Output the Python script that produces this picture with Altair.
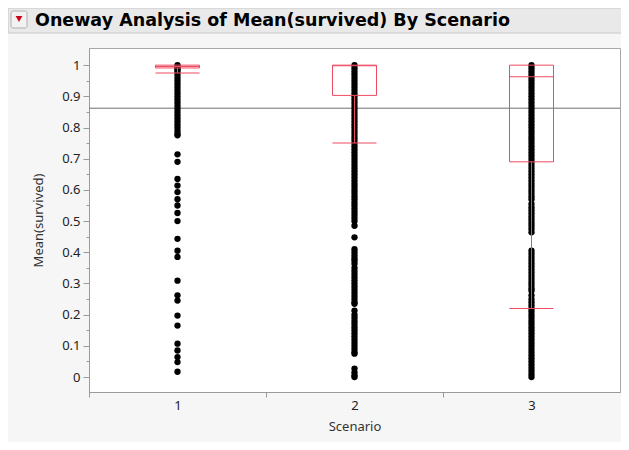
import altair as alt
import pandas as pd

# ---------------- data ----------------
scenario_labels = ["1", "2", "3"]
scenarios = [1, 2, 3]

s1 = [1.0, 0.995, 0.99, 0.985, 0.98, 0.97, 0.96, 0.95, 0.94, 0.93, 0.92, 0.91,
      0.90, 0.89, 0.88, 0.87, 0.86, 0.85, 0.84, 0.83, 0.82, 0.81, 0.80, 0.79,
      0.78, 0.775, 0.714, 0.69, 0.635, 0.614, 0.593, 0.57, 0.55, 0.526, 0.50,
      0.443, 0.405, 0.385, 0.309, 0.262, 0.245, 0.197, 0.165, 0.107, 0.085,
      0.064, 0.048, 0.017]

s2 = [1.0, 0.99, 0.98, 0.97, 0.96, 0.95, 0.94, 0.93, 0.92, 0.91, 0.90, 0.89,
      0.88, 0.87, 0.86, 0.85, 0.84, 0.83, 0.82, 0.81, 0.80, 0.79, 0.78, 0.77,
      0.76, 0.75, 0.74, 0.73, 0.72, 0.71, 0.70, 0.69, 0.68, 0.67, 0.66, 0.65,
      0.64, 0.63, 0.62, 0.61, 0.60, 0.59, 0.58, 0.57, 0.56, 0.55, 0.54, 0.53,
      0.52, 0.51, 0.50, 0.485, 0.448, 0.41, 0.40, 0.39, 0.38, 0.373, 0.363,
      0.35, 0.34, 0.33, 0.32, 0.31, 0.30, 0.29, 0.28, 0.27, 0.26, 0.25, 0.24,
      0.235, 0.213, 0.20, 0.19, 0.18, 0.17, 0.16, 0.15, 0.14, 0.13, 0.12, 0.11,
      0.10, 0.09, 0.08, 0.075, 0.027, 0.015, 0.005, 0.0]

s3 = [1.0, 0.99, 0.98, 0.97, 0.96, 0.95, 0.94, 0.93, 0.92, 0.91, 0.90, 0.89,
      0.88, 0.87, 0.86, 0.85, 0.84, 0.83, 0.82, 0.81, 0.80, 0.79, 0.78, 0.77,
      0.76, 0.75, 0.74, 0.73, 0.72, 0.71, 0.70, 0.69, 0.68, 0.67, 0.66, 0.65,
      0.64, 0.63, 0.62, 0.61, 0.60, 0.59, 0.58, 0.57, 0.555, 0.544, 0.535,
      0.525, 0.515, 0.505, 0.495, 0.485, 0.475, 0.464, 0.405, 0.395, 0.385,
      0.375, 0.365, 0.355, 0.345, 0.335, 0.325, 0.315, 0.305, 0.295, 0.285,
      0.277, 0.262, 0.25, 0.24, 0.23, 0.22, 0.21, 0.20, 0.19, 0.18, 0.17, 0.16,
      0.15, 0.14, 0.13, 0.12, 0.11, 0.10, 0.09, 0.08, 0.07, 0.06, 0.05, 0.04,
      0.03, 0.02, 0.01, 0.0]

grand_mean = 0.862
box_q1 = [0.991, 0.903, 0.69]
box_q3 = [1.0, 1.0, 1.0]
box_median = [0.996, 0.998, 0.963]
whisker_low = [0.975, 0.75, 0.22]
whisker_high = [1.0, 1.0, 1.0]

y_tick_values = [0.0, 0.05, 0.1, 0.15, 0.2, 0.25, 0.3, 0.35, 0.4, 0.45, 0.5,
                 0.55, 0.6, 0.65, 0.7, 0.75, 0.8, 0.85, 0.9, 0.95, 1.0]
x_tick_values = [0.5, 1.5, 2.5]

title_text = "Oneway Analysis of Mean(survived) By Scenario"

# ---------------- tables ----------------
pts = pd.DataFrame({
    "Scenario": [1] * len(s1) + [2] * len(s2) + [3] * len(s3),
    "Mean(survived)": s1 + s2 + s3,
})
boxes = pd.DataFrame({
    "Scenario": scenarios,
    "q1": box_q1, "q3": box_q3, "median": box_median,
    "lo": whisker_low, "hi": whisker_high,
})
one = pd.DataFrame({"a": [0]})

# body content width is 613px, so the whole svg is kept within it
W, H = 531, 344
RED = "#ee4a60"
FONT = "Noto Sans"

xscale = alt.Scale(domain=[0.5, 3.5], nice=False, zero=False, padding=0)
yscale = alt.Scale(domain=[-0.048, 1.055], nice=False, zero=False, padding=0)

x_axis = alt.Axis(
    values=x_tick_values,
    labelExpr="format(datum.value + 0.5, 'd')",
    labelOffset=W / 6,
    labelFlush=False,
    labelOverlap=False,
    tickSize=5,
    labelPadding=2,
    title="Scenario",
    titlePadding=8,
    grid=False,
)
y_axis = alt.Axis(
    values=y_tick_values,
    labelExpr="(round(datum.value * 20) % 2 == 0) ? format(datum.value, '.1~f') : ''",
    tickSize={"condition": {"test": "round(datum.value * 20) % 2 == 0", "value": 6}, "value": 3},
    labelPadding=3,
    labelOverlap=False,
    labelFlush=False,
    title="Mean(survived)",
    titlePadding=16,
    grid=False,
)

X = alt.X("Scenario:Q", scale=xscale, axis=x_axis)

def Yf(field):
    return alt.Y(field, scale=yscale, axis=y_axis, title="Mean(survived)")

points = alt.Chart(pts).mark_circle(size=40, color="black", opacity=1).encode(
    x=X, y=Yf("Mean(survived):Q"),
)

mean_rule = alt.Chart(one).mark_rule(color="#707070", strokeWidth=1).encode(
    y=alt.datum(grand_mean, scale=yscale, axis=y_axis, title="Mean(survived)"),
    x=alt.value(0), x2=alt.value(W),
)

box_rect = alt.Chart(boxes).mark_bar(size=44, fill=None, fillOpacity=0, stroke=RED, strokeWidth=1).encode(
    x=X, y=Yf("q1:Q"), y2="q3:Q",
)
whisker = alt.Chart(boxes).mark_rule(color=RED, strokeWidth=1).encode(
    x=X, y=Yf("lo:Q"), y2="q1:Q",
)
cap_lo = alt.Chart(boxes).mark_tick(orient="horizontal", size=44, thickness=1, color=RED, opacity=1).encode(
    x=X, y=Yf("lo:Q"),
)
median_t = alt.Chart(boxes).mark_tick(orient="horizontal", size=44, thickness=1, color=RED, opacity=1).encode(
    x=X, y=Yf("median:Q"),
)

# header bar (decoration)
header = alt.Chart(one).mark_rect(fill="#e9e9e9", stroke="#c8c8c8", strokeWidth=1).encode(
    x=alt.value(-81), x2=alt.value(W + 2), y=alt.value(-40), y2=alt.value(-15),
)
icon_box = alt.Chart(one).mark_rect(fill="#f2f2f2", stroke="#b0b0b0", strokeWidth=1, cornerRadius=2).encode(
    x=alt.value(-78), x2=alt.value(-62), y=alt.value(-37), y2=alt.value(-20),
)
icon_tri = alt.Chart(one).mark_point(shape="triangle-down", filled=True, color="#d0021b", size=45, opacity=1).encode(
    x=alt.value(-70), y=alt.value(-29),
)
title = alt.Chart(one).mark_text(
    text=title_text, font="DejaVu Sans", fontSize=17.5, fontWeight="bold", color="black",
    align="left", baseline="middle",
).encode(x=alt.value(-54), y=alt.value(-27))

chart = alt.layer(
    header, icon_box, icon_tri, title,
    mean_rule, points, box_rect, whisker, cap_lo, median_t,
).properties(
    width=W, height=H,
    autosize=alt.AutoSizeParams(type="none"),
    padding={"left": 81, "top": 40, "right": 1, "bottom": 50},
    background="#f6f6f6",
).configure_view(
    fill="white", stroke="#a8a8a8", strokeWidth=1,
).configure_axis(
    domainColor="#9a9a9a", tickColor="#9a9a9a",
    labelFont=FONT, labelFontSize=13, labelColor="#222222",
    titleFont=FONT, titleFontSize=13, titleFontWeight="normal", titleColor="#333333",
)

chart.save("out.html", embed_options={"renderer": "svg", "actions": False})
